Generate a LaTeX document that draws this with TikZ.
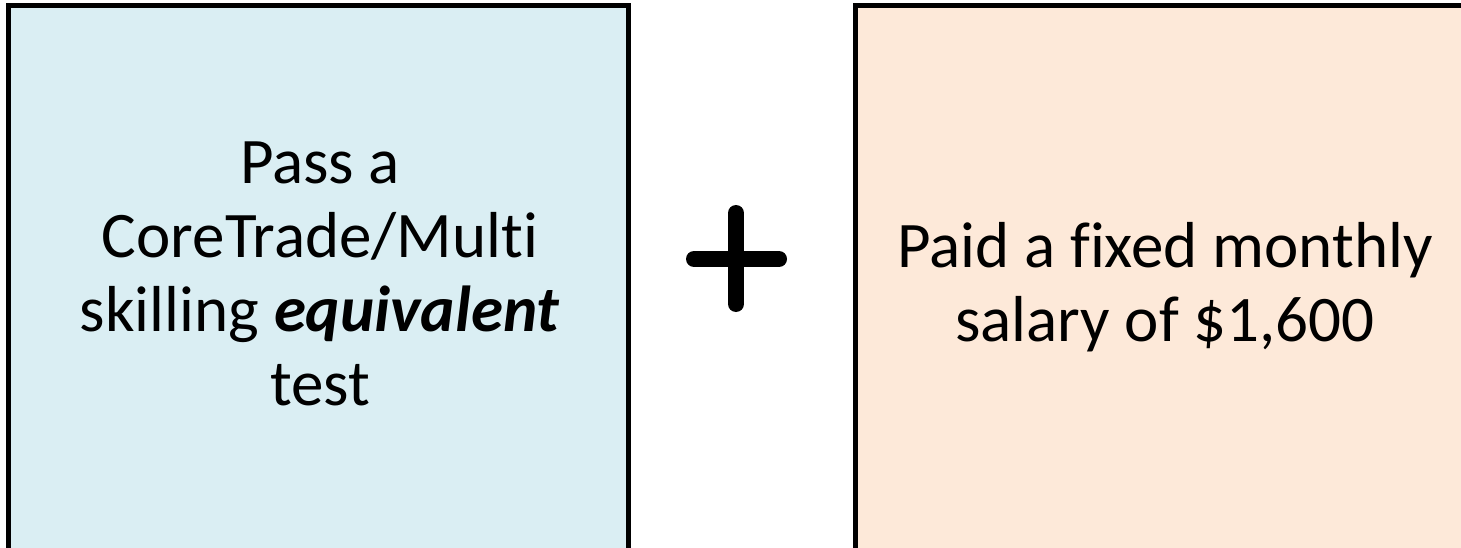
\documentclass[tikz,border=0pt]{standalone}
\usepackage{fontspec}
\setmainfont[Ligatures=NoCommon]{Carlito}
\definecolor{boxblue}{HTML}{DAEEF3}
\definecolor{boxpeach}{HTML}{FDE9D9}
\begin{document}
\begin{tikzpicture}[x=1pt,y=-1pt,
  panel/.style={draw=black,line width=5pt,line join=miter},
  txt/.style={align=center,font=\fontsize{65}{74}\selectfont,inner sep=0pt},
  plusbar/.style={line width=16pt,line cap=round,draw=black}]
\useasboundingbox (0,0) rectangle (1461,548);
\clip (0,0) rectangle (1461,548);
\filldraw[panel,fill=boxblue] (8.5,5.5) rectangle (628.5,570);
\filldraw[panel,fill=boxpeach] (855.5,5.5) rectangle (1480,570);
\node[txt] (left) at (320,274) {Pass a\\CoreTrade/Multi\\skilling \textbf{\textit{equivalent}}\\test};
\node[txt] (right) at (1165,287) {Paid a fixed monthly\\salary of \$1,600};
\coordinate (pc) at (736,259);
\draw[plusbar] (736,213) -- (736,304);
\draw[plusbar] (694,259) -- (779,259);
\end{tikzpicture}
\end{document}
